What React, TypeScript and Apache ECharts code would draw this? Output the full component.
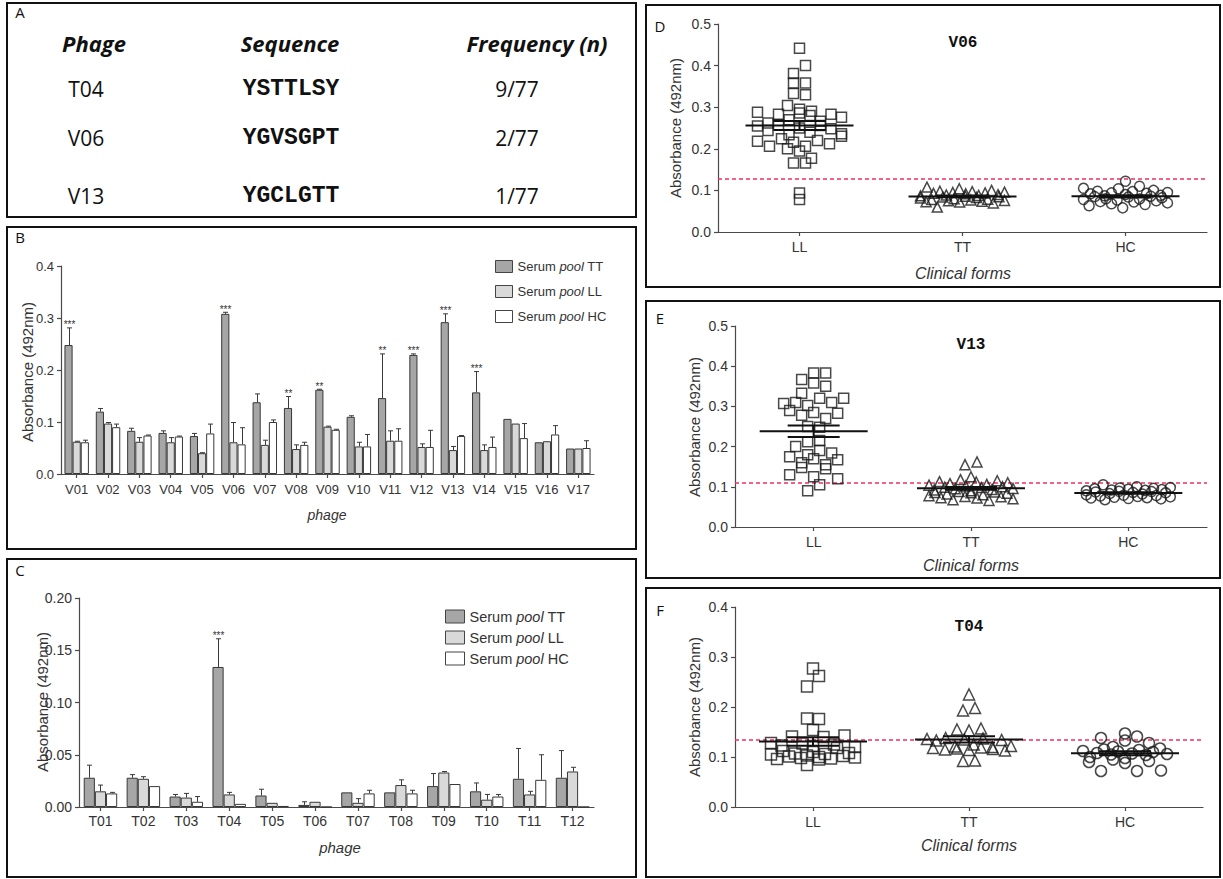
import { useEffect, useRef } from "react";
import * as echarts from "echarts";

// ---------- Panel A (table) ----------
const tableHeaders = ["Phage", "Sequence", "Frequency (n)"];
const tablePhages = ["T04", "V06", "V13"];
const tableSeqs = ["YSTTLSY", "YGVSGPT", "YGCLGTT"];
const tableFreqs = ["9/77", "2/77", "1/77"];

// ---------- Panel B (V phages) ----------
const phagesB = ["V01", "V02", "V03", "V04", "V05", "V06", "V07", "V08", "V09", "V10", "V11", "V12", "V13", "V14", "V15", "V16", "V17"];
const bTT = [0.248, 0.120, 0.083, 0.079, 0.073, 0.308, 0.138, 0.127, 0.162, 0.110, 0.146, 0.229, 0.292, 0.157, 0.106, 0.061, 0.049];
const bTTErr = [0.033, 0.006, 0.005, 0.004, 0.005, 0.003, 0.016, 0.022, 0.001, 0.002, 0.085, 0.002, 0.016, 0.040, 0, 0, 0];
const bLL = [0.062, 0.097, 0.062, 0.061, 0.040, 0.061, 0.056, 0.048, 0.091, 0.053, 0.064, 0.052, 0.046, 0.046, 0.097, 0.063, 0.049];
const bLLErr = [0.001, 0.002, 0.008, 0.009, 0.001, 0.038, 0.009, 0.008, 0.001, 0.008, 0.019, 0.006, 0.007, 0.010, 0, 0, 0];
const bHC = [0.061, 0.090, 0.074, 0.072, 0.078, 0.057, 0.100, 0.056, 0.085, 0.053, 0.064, 0.052, 0.073, 0.052, 0.069, 0.076, 0.050];
const bHCErr = [0.004, 0.006, 0.001, 0.001, 0.018, 0.032, 0.004, 0.005, 0.001, 0.023, 0.023, 0.032, 0.001, 0.019, 0.028, 0.017, 0.014];
const bStars = ["***", "", "", "", "", "***", "", "**", "**", "", "**", "***", "***", "***", "", "", ""];

// ---------- Panel C (T phages) ----------
const phagesC = ["T01", "T02", "T03", "T04", "T05", "T06", "T07", "T08", "T09", "T10", "T11", "T12"];
const cTT = [0.028, 0.028, 0.010, 0.134, 0.011, 0.002, 0.014, 0.014, 0.020, 0.015, 0.027, 0.028];
const cTTErr = [0.012, 0.003, 0.002, 0.027, 0.006, 0.003, 0, 0, 0.012, 0.008, 0.029, 0.026];
const cLL = [0.015, 0.027, 0.009, 0.012, 0.004, 0.005, 0.004, 0.021, 0.033, 0.007, 0.012, 0.034];
const cLLErr = [0.006, 0.002, 0.004, 0.002, 0, 0, 0.004, 0.005, 0.001, 0.005, 0.003, 0.004];
const cHC = [0.013, 0.020, 0.005, 0.003, 0.001, 0, 0.013, 0.013, 0.022, 0.010, 0.026, 0];
const cHCErr = [0.001, 0, 0.005, 0, 0, 0, 0.003, 0.003, 0, 0.002, 0.024, 0];
const cStars = ["", "", "", "***", "", "", "", "", "", "", "", ""];

const seriesNames = ["Serum pool TT", "Serum pool LL", "Serum pool HC"];
const clinicalForms = ["LL", "TT", "HC"];

// ---------- Panel D (V06) ----------
const dLL = [0.442, 0.400, 0.381, 0.358, 0.358, 0.333, 0.330, 0.304, 0.295, 0.290, 0.288, 0.286, 0.283, 0.283, 0.280, 0.276, 0.270, 0.266, 0.262, 0.258, 0.256, 0.255, 0.250, 0.248, 0.244, 0.240, 0.236, 0.234, 0.230, 0.224, 0.220, 0.218, 0.216, 0.212, 0.206, 0.206, 0.200, 0.195, 0.177, 0.166, 0.166, 0.094, 0.078];
const dTT = [0.108, 0.104, 0.100, 0.098, 0.097, 0.096, 0.095, 0.094, 0.093, 0.092, 0.090, 0.089, 0.088, 0.087, 0.086, 0.085, 0.084, 0.083, 0.082, 0.080, 0.079, 0.078, 0.077, 0.076, 0.075, 0.074, 0.073, 0.072, 0.070, 0.060];
const dHC = [0.122, 0.110, 0.105, 0.104, 0.100, 0.098, 0.097, 0.095, 0.094, 0.093, 0.092, 0.090, 0.088, 0.087, 0.086, 0.085, 0.084, 0.082, 0.080, 0.079, 0.078, 0.077, 0.075, 0.073, 0.072, 0.070, 0.068, 0.066, 0.063, 0.058];
const dCut = 0.128;

// ---------- Panel E (V13) ----------
const eLL = [0.383, 0.383, 0.367, 0.358, 0.350, 0.333, 0.320, 0.320, 0.310, 0.310, 0.307, 0.302, 0.290, 0.285, 0.283, 0.278, 0.270, 0.250, 0.248, 0.215, 0.212, 0.200, 0.190, 0.184, 0.180, 0.175, 0.170, 0.167, 0.160, 0.155, 0.148, 0.145, 0.125, 0.120, 0.130, 0.105, 0.090];
const eTT = [0.162, 0.155, 0.125, 0.118, 0.115, 0.113, 0.112, 0.110, 0.108, 0.106, 0.104, 0.102, 0.100, 0.099, 0.098, 0.096, 0.095, 0.093, 0.092, 0.090, 0.088, 0.087, 0.086, 0.085, 0.084, 0.082, 0.080, 0.078, 0.076, 0.075, 0.073, 0.072, 0.070, 0.068, 0.066];
const eHC = [0.105, 0.100, 0.098, 0.097, 0.096, 0.095, 0.094, 0.093, 0.092, 0.091, 0.090, 0.089, 0.088, 0.087, 0.086, 0.085, 0.083, 0.082, 0.080, 0.079, 0.078, 0.077, 0.076, 0.075, 0.074, 0.073, 0.072, 0.071, 0.070, 0.068];
const eCut = 0.11;

// ---------- Panel F (T04) ----------
const fLL = [0.277, 0.262, 0.241, 0.177, 0.176, 0.154, 0.143, 0.141, 0.140, 0.128, 0.127, 0.125, 0.123, 0.122, 0.120, 0.118, 0.112, 0.110, 0.108, 0.107, 0.106, 0.105, 0.103, 0.102, 0.101, 0.100, 0.099, 0.098, 0.097, 0.096, 0.095, 0.084];
const fTT = [0.225, 0.198, 0.193, 0.157, 0.155, 0.153, 0.138, 0.137, 0.136, 0.135, 0.134, 0.133, 0.125, 0.122, 0.121, 0.120, 0.119, 0.118, 0.117, 0.116, 0.115, 0.114, 0.113, 0.093, 0.092];
const fHC = [0.147, 0.141, 0.138, 0.133, 0.128, 0.120, 0.117, 0.115, 0.114, 0.112, 0.111, 0.110, 0.108, 0.107, 0.106, 0.105, 0.104, 0.100, 0.098, 0.095, 0.092, 0.090, 0.088, 0.073, 0.072, 0.072];
const fCut = 0.135;

// ---------- styling ----------
const SANS = "Liberation Sans";
const AXIS_COLOR = "#4a4a4a";
const TEXT_COLOR = "#333";
const BAR_COLORS = ["#a6a6a6", "#d9d9d9", "#ffffff"];
const BAR_GAP = 0.22;
const CUT_COLOR = "#ee2f5c";

const mean = (a: number[]) => a.reduce((s, v) => s + v, 0) / a.length;
const sem = (a: number[]) => {
  const m = mean(a);
  const v = a.reduce((s, x) => s + (x - m) * (x - m), 0) / (a.length - 1);
  return Math.sqrt(v) / Math.sqrt(a.length);
};

// GraphPad-like scatter-dot layout: points binned by height, each bin spread in a row,
// slots assigned with a low-discrepancy permutation so rows do not slant.
function swarm(values: number[], pxPerUnit: number, catPx: number, binPx: number, step: number, maxHalf: number): number[] {
  const bins = new Map<number, number[]>();
  values.forEach((v, i) => {
    const key = Math.floor((v * pxPerUnit) / binPx);
    if (!bins.has(key)) bins.set(key, []);
    bins.get(key)!.push(i);
  });
  const out = new Array(values.length).fill(0);
  [...bins.keys()].forEach((key, bi) => {
    const idx = bins.get(key)!.slice().sort((a, b) => values[a] - values[b]);
    const n = idx.length;
    const slotsOrder = idx
      .map((_, j) => ({ j, r: ((j + bi * 0.37) * 0.618034) % 1 }))
      .sort((a, b) => a.r - b.r)
      .map((o) => o.j);
    const sp = n > 1 ? Math.min(step, (2 * maxHalf) / (n - 1)) : 0;
    slotsOrder.forEach((j, slot) => {
      out[idx[j]] = ((slot - (n - 1) / 2) * sp) / catPx;
    });
  });
  return out;
}

const lineStyle = { color: AXIS_COLOR, width: 1.2 };

function catAxis(grid: number, data: string[], fontSize: number, margin: number) {
  return {
    type: "category",
    gridIndex: grid,
    data,
    boundaryGap: true,
    axisLine: { show: true, lineStyle },
    axisTick: { show: true, alignWithLabel: true, length: 4, lineStyle },
    axisLabel: { interval: 0, fontSize, color: TEXT_COLOR, fontFamily: SANS, margin },
    splitLine: { show: false },
  };
}

function valAxis(grid: number, max: number, interval: number, decimals: number, fontSize: number) {
  return {
    type: "value",
    gridIndex: grid,
    min: 0,
    max,
    interval,
    axisLine: { show: true, lineStyle },
    axisTick: { show: true, length: 4, lineStyle },
    axisLabel: { fontSize, color: TEXT_COLOR, fontFamily: SANS, margin: 7, formatter: (v: number) => v.toFixed(decimals) },
    splitLine: { show: false },
  };
}

function barSeries(xi: number, yi: number, name: string, vals: number[], color: string) {
  return {
    type: "bar",
    name,
    xAxisIndex: xi,
    yAxisIndex: yi,
    data: vals,
    barGap: "0%",
    barCategoryGap: BAR_GAP * 100 + "%",
    itemStyle: { color, borderColor: "#383838", borderWidth: 1 },
    silent: true,
  };
}

function errSeries(xi: number, yi: number, vals: number[], errs: number[], slot: number, stars: string[] | null) {
  return {
    type: "custom",
    xAxisIndex: xi,
    yAxisIndex: yi,
    z: 4,
    silent: true,
    itemStyle: { color: "#333333" },
    data: vals.map((v, i) => [i, v, errs[i]]),
    encode: { x: 0, y: 1 },
    renderItem: (params: any, api: any) => {
      const i = api.value(0);
      const v = api.value(1);
      const e = api.value(2);
      const base = api.coord([i, v]);
      const top = api.coord([i, v + e]);
      const band = api.size([1, 0])[0];
      const bw = (band * (1 - BAR_GAP)) / 3;
      const cx = Math.round(base[0] + (slot - 1) * bw) + 0.5;
      const children: any[] = [];
      const st = { stroke: "#3a3a3a", lineWidth: 1 };
      if (e > 0) {
        children.push({ type: "line", shape: { x1: cx, y1: base[1], x2: cx, y2: top[1] }, style: st });
        children.push({ type: "line", shape: { x1: cx - 2.5, y1: top[1], x2: cx + 2.5, y2: top[1] }, style: st });
      }
      const s = stars ? stars[params.dataIndex] : "";
      if (s) {
        children.push({
          type: "text",
          x: cx,
          y: top[1] + 2,
          style: {
            text: s,
            align: "center",
            verticalAlign: "bottom",
            fontSize: 10,
            fontFamily: SANS,
            fill: "#333333",
          },
        });
      }
      return { type: "group", children };
    },
  };
}

function scatterSeries(xi: number, yi: number, group: number, vals: number[], offs: number[], symbol: string, size: number) {
  return {
    type: "scatter",
    xAxisIndex: xi,
    yAxisIndex: yi,
    symbol,
    symbolSize: size,
    silent: true,
    z: 3,
    data: vals.map((v, i) => [group + 0.5 + offs[i], v]),
    itemStyle: { color: "rgba(255,255,255,0)", borderColor: "#1a1a1a", borderWidth: 1.5 },
  };
}

function cutSeries(xi: number, yi: number, cut: number) {
  return {
    type: "custom",
    xAxisIndex: xi,
    yAxisIndex: yi,
    z: 2,
    silent: true,
    itemStyle: { color: CUT_COLOR },
    data: [[0, cut]],
    encode: { x: 0, y: 1 },
    renderItem: (params: any, api: any) => {
      const p = api.coord([0, api.value(1)]);
      const cs = params.coordSys;
      const y = Math.round(p[1]);
      return {
        type: "line",
        shape: { x1: cs.x, y1: y, x2: cs.x + cs.width, y2: y },
        style: { stroke: CUT_COLOR, fill: null, lineWidth: 1.6, lineDash: [4, 3] },
      };
    },
  };
}

function meanSeries(xi: number, yi: number, groups: number[][], half: number, semHalf: number) {
  return {
    type: "custom",
    xAxisIndex: xi,
    yAxisIndex: yi,
    z: 6,
    silent: true,
    itemStyle: { color: "#111" },
    data: groups.map((g, k) => [k + 0.5, mean(g), sem(g)]),
    encode: { x: 0, y: 1 },
    renderItem: (_p: any, api: any) => {
      const x = api.value(0);
      const m = api.value(1);
      const s = api.value(2);
      const c = api.coord([x, m]);
      const u = api.coord([x, m + s]);
      const d = api.coord([x, m - s]);
      const st = { stroke: "#111", lineWidth: 2 };
      return {
        type: "group",
        children: [
          { type: "line", shape: { x1: c[0] - half, y1: c[1], x2: c[0] + half, y2: c[1] }, style: st },
          { type: "line", shape: { x1: c[0] - semHalf, y1: u[1], x2: c[0] + semHalf, y2: u[1] }, style: st },
          { type: "line", shape: { x1: c[0] - semHalf, y1: d[1], x2: c[0] + semHalf, y2: d[1] }, style: st },
          { type: "line", shape: { x1: c[0], y1: u[1], x2: c[0], y2: d[1] }, style: st },
        ],
      };
    },
  };
}

function txt(text: string, x: number, y: number, o: any = {}) {
  return {
    type: "text",
    x,
    y,
    rotation: o.rotation || 0,
    silent: true,
    style: {
      text,
      fill: o.fill || "#111",
      fontSize: o.fontSize || 14,
      fontFamily: o.fontFamily || SANS,
      fontWeight: o.fontWeight || "normal",
      fontStyle: o.fontStyle || "normal",
      align: o.align || "center",
      verticalAlign: "middle",
      textAlign: o.align || "center",
      textVerticalAlign: "middle",
    },
  };
}

function box(x1: number, y1: number, x2: number, y2: number) {
  return {
    type: "rect",
    silent: true,
    shape: { x: x1, y: y1, width: x2 - x1, height: y2 - y1 },
    style: { fill: "none", stroke: "#111", lineWidth: 2 },
  };
}

function legendFor(left: number, top: number, w: number, h: number, gap: number, fs: number) {
  return {
    data: seriesNames,
    left,
    top,
    orient: "vertical",
    icon: "rect",
    itemWidth: w,
    itemHeight: h,
    itemGap: gap,
    selectedMode: false,
    itemStyle: { borderColor: "#444", borderWidth: 1 },
    formatter: (n: string) => n.replace("pool", "{i|pool}"),
    textStyle: {
      fontSize: fs,
      color: TEXT_COLOR,
      fontFamily: SANS,
      rich: { i: { fontStyle: "italic", fontSize: fs, fontFamily: SANS, color: TEXT_COLOR } },
    },
  };
}

// grid geometry
const G = {
  B: { left: 61, top: 266, width: 533, height: 208 },
  C: { left: 79, top: 598, width: 515, height: 209 },
  D: { left: 718, top: 24, width: 489, height: 208 },
  E: { left: 735, top: 326, width: 472, height: 201 },
  F: { left: 735, top: 607, width: 468, height: 200 },
};

function buildOption() {
  const panels = [
    { g: G.D, max: 0.5, groups: [dLL, dTT, dHC], cut: dCut, size: 10 },
    { g: G.E, max: 0.5, groups: [eLL, eTT, eHC], cut: eCut, size: 10 },
    { g: G.F, max: 0.4, groups: [fLL, fTT, fHC], cut: fCut, size: 11 },
  ];
  const symbols = ["rect", "triangle", "circle"];

  const xAxes: any[] = [catAxis(0, phagesB, 13, 9), catAxis(1, phagesC, 14, 7)];
  const yAxes: any[] = [valAxis(0, 0.4, 0.1, 1, 13), valAxis(1, 0.2, 0.05, 2, 14)];
  const series: any[] = [];

  const bVals = [bTT, bLL, bHC];
  const bErrs = [bTTErr, bLLErr, bHCErr];
  const cVals = [cTT, cLL, cHC];
  const cErrs = [cTTErr, cLLErr, cHCErr];
  for (let k = 0; k < 3; k++) series.push(barSeries(0, 0, seriesNames[k], bVals[k], BAR_COLORS[k]));
  for (let k = 0; k < 3; k++) series.push(errSeries(0, 0, bVals[k], bErrs[k], k, k === 0 ? bStars : null));
  for (let k = 0; k < 3; k++) series.push(barSeries(1, 1, seriesNames[k], cVals[k], BAR_COLORS[k]));
  for (let k = 0; k < 3; k++) series.push(errSeries(1, 1, cVals[k], cErrs[k], k, k === 0 ? cStars : null));

  panels.forEach((p, pi) => {
    const gi = pi + 2;
    xAxes.push(catAxis(gi, clinicalForms, 14, 8));
    const valIdx = xAxes.length;
    xAxes.push({ type: "value", gridIndex: gi, min: 0, max: 3, show: false });
    yAxes.push(valAxis(gi, p.max, 0.1, 1, 14));
    const yi = gi;
    const pxPerUnit = p.g.height / p.max;
    const catPx = p.g.width / 3;
    series.push(cutSeries(valIdx, yi, p.cut));
    p.groups.forEach((vals, k) => {
      const offs = swarm(vals, pxPerUnit, catPx, 12, 12, 42);
      series.push(scatterSeries(valIdx, yi, k, vals, offs, symbols[k], p.size));
    });
    series.push(meanSeries(valIdx, yi, p.groups, 54, 26));
  });

  const graphics: any[] = [
    box(7, 3, 636, 217),
    box(7, 227, 636, 549),
    box(7, 559, 636, 877),
    box(646, 5, 1220, 287),
    box(646, 301, 1220, 578),
    box(646, 588, 1220, 877),
    // panel letters
    txt("A", 20, 12, { fontFamily: "Open Sans", fontSize: 15 }),
    txt("B", 20, 237, { fontFamily: "Open Sans", fontSize: 15 }),
    txt("C", 20, 570, { fontFamily: "Open Sans", fontSize: 15 }),
    txt("D", 660, 26, { fontFamily: "Open Sans", fontSize: 15 }),
    txt("E", 660, 318, { fontFamily: "Open Sans", fontSize: 15 }),
    txt("F", 660, 610, { fontFamily: "Open Sans", fontSize: 15 }),
  ];
  // table (panel A)
  const colX = [94, 290, 537];
  const rowY = [89, 138, 196];
  tableHeaders.forEach((h, i) =>
    graphics.push(txt(h, colX[i], 43, { fontFamily: "Open Sans", fontSize: 22, fontWeight: "bold", fontStyle: "italic" }))
  );
  rowY.forEach((y, r) => {
    graphics.push(txt(tablePhages[r], 86, y, { fontFamily: "Open Sans", fontSize: 21 }));
    graphics.push(txt(tableSeqs[r], 291, y, { fontFamily: "Liberation Mono", fontSize: 23, fontWeight: "bold" }));
    graphics.push(txt(tableFreqs[r], 517, y, { fontFamily: "Open Sans", fontSize: 21 }));
  });
  // axis names
  const yName = "Absorbance (492nm)";
  const rot = Math.PI / 2;
  graphics.push(txt(yName, 27, 372, { rotation: rot, fontSize: 15, fill: TEXT_COLOR }));
  graphics.push(txt(yName, 42, 702, { rotation: rot, fontSize: 15, fill: TEXT_COLOR }));
  graphics.push(txt(yName, 675, 128, { rotation: rot, fontSize: 15, fill: TEXT_COLOR }));
  graphics.push(txt(yName, 694, 427, { rotation: rot, fontSize: 15, fill: TEXT_COLOR }));
  graphics.push(txt(yName, 694, 707, { rotation: rot, fontSize: 15, fill: TEXT_COLOR }));
  graphics.push(txt("phage", 327, 515, { fontSize: 14, fontStyle: "italic", fill: TEXT_COLOR }));
  graphics.push(txt("phage", 340, 847, { fontSize: 15, fontStyle: "italic", fill: TEXT_COLOR }));
  graphics.push(txt("Clinical forms", 963, 273, { fontSize: 16, fontStyle: "italic", fill: TEXT_COLOR }));
  graphics.push(txt("Clinical forms", 971, 565, { fontSize: 16, fontStyle: "italic", fill: TEXT_COLOR }));
  graphics.push(txt("Clinical forms", 969, 845, { fontSize: 16, fontStyle: "italic", fill: TEXT_COLOR }));
  // panel titles
  graphics.push(txt("V06", 963, 43, { fontFamily: "Liberation Mono", fontSize: 16, fontWeight: "bold" }));
  graphics.push(txt("V13", 971, 345, { fontFamily: "Liberation Mono", fontSize: 16, fontWeight: "bold" }));
  graphics.push(txt("T04", 969, 627, { fontFamily: "Liberation Mono", fontSize: 16, fontWeight: "bold" }));

  return {
    animation: false,
    backgroundColor: "#ffffff",
    grid: [G.B, G.C, G.D, G.E, G.F].map((g) => ({ ...g, containLabel: false, outerBoundsMode: "none" })),
    xAxis: xAxes,
    yAxis: yAxes,
    legend: [legendFor(490, 255, 17, 12, 12, 13), legendFor(440, 604, 19, 13, 6, 14.5)],
    series,
    graphic: { elements: graphics },
  };
}

export default function App() {
  const ref = useRef<HTMLDivElement>(null);
  useEffect(() => {
    if (!ref.current) return;
    const chart = echarts.init(ref.current, null, { renderer: "svg" });
    chart.setOption(buildOption() as any);
    return () => chart.dispose();
  }, []);
  return (
    <div
      ref={ref}
      style={{ position: "absolute", left: 0, top: 0, width: 1223, height: 879, background: "#fff" }}
    />
  );
}
